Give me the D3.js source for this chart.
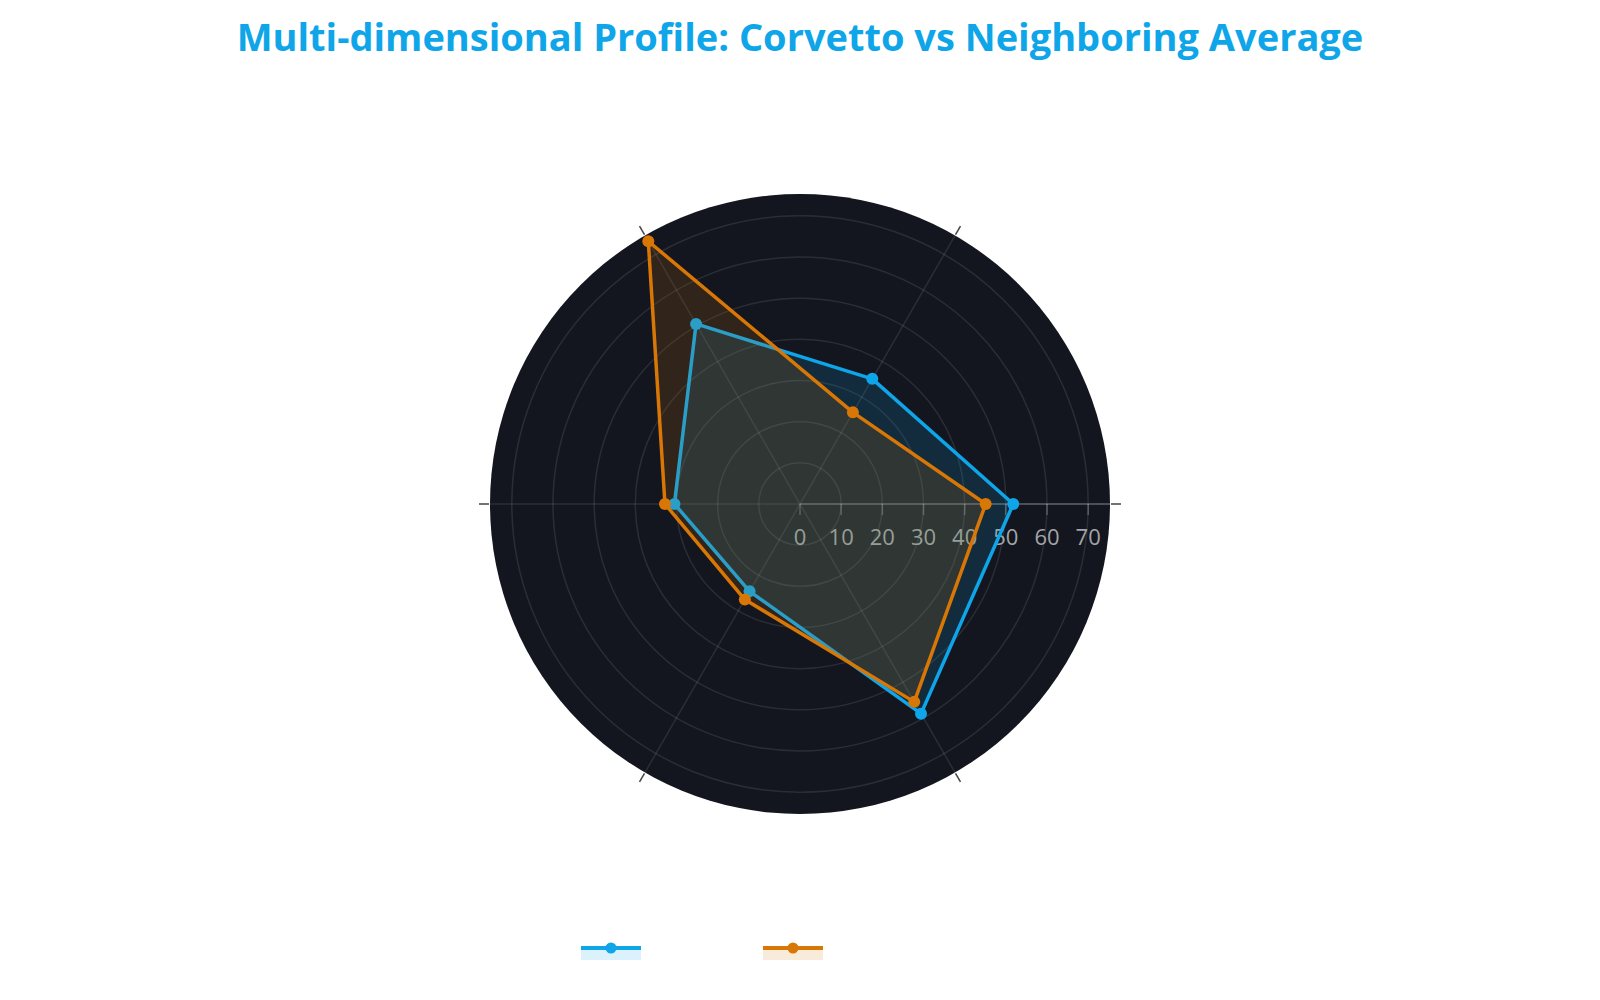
<!DOCTYPE html>
<html>
<head>
<meta charset="utf-8">
<script src="https://cdn.jsdelivr.net/npm/d3@7"></script>
<style>
  body { margin: 0; background: #ffffff; }
  svg { display: block; }
</style>
</head>
<body>
<div id="chart"></div>
<script>
// six profile dimensions, counterclockwise from east
const dimensions = ["dim1", "dim2", "dim3", "dim4", "dim5", "dim6"];
const seriesNames = ["Corvetto", "Neighboring Average"];
const corvetto = [51.8, 35.1, 50.5, 30.5, 24.5, 58.8];
const neighboring = [45.1, 25.7, 73.7, 32.8, 26.8, 55.5];
const radialTicks = [0, 10, 20, 30, 40, 50, 60, 70];

const colors = ["#0ea5e9", "#d97706"];
const fills = ["rgba(14,165,233,0.15)", "rgba(217,119,6,0.15)"];

const W = 1600, H = 1000;
const cx = 800, cy = 504, R = 310;

const svg = d3.select("#chart").append("svg")
  .attr("width", W).attr("height", H);

svg.append("text")
  .attr("x", W / 2).attr("y", 51)
  .attr("text-anchor", "middle")
  .style("font-family", "'Open Sans', sans-serif")
  .style("font-weight", "bold")
  .style("font-size", "38px")
  .style("fill", "#0ea5e9")
  .text("Multi-dimensional Profile: Corvetto vs Neighboring Average");

const r = d3.scaleLinear().domain([0, 75.3]).range([0, R]);
// angle in radians, math convention (0 = east, counterclockwise)
const ang = d3.scaleLinear().domain([0, dimensions.length]).range([0, 2 * Math.PI]);

const g = svg.append("g").attr("transform", "translate(" + cx + "," + cy + ")");

g.append("circle").attr("r", R).attr("fill", "#13161f");

// grid circles
g.selectAll(".ring").data(radialTicks.filter(d => d > 0)).enter()
  .append("circle")
  .attr("r", d => r(d))
  .attr("fill", "none")
  .attr("stroke", "rgba(255,255,255,0.1)")
  .attr("stroke-width", 1.5);

// angular grid lines + outside ticks
g.selectAll(".spoke").data(dimensions).enter()
  .append("line")
  .attr("x1", 0).attr("y1", 0)
  .attr("x2", (d, i) => R * Math.cos(ang(i)))
  .attr("y2", (d, i) => -R * Math.sin(ang(i)))
  .attr("stroke", "rgba(255,255,255,0.1)")
  .attr("stroke-width", 1.5);

g.selectAll(".atick").data(dimensions).enter()
  .append("line")
  .attr("x1", (d, i) => (R + 1) * Math.cos(ang(i)))
  .attr("y1", (d, i) => -(R + 1) * Math.sin(ang(i)))
  .attr("x2", (d, i) => (R + 11) * Math.cos(ang(i)))
  .attr("y2", (d, i) => -(R + 11) * Math.sin(ang(i)))
  .attr("stroke", "#444")
  .attr("stroke-width", 1.5);

// radial axis along 0 deg
g.append("line")
  .attr("x1", 0).attr("y1", 0).attr("x2", R).attr("y2", 0)
  .attr("stroke", "rgba(255,255,255,0.25)")
  .attr("stroke-width", 1.5);

g.selectAll(".rtick").data(radialTicks).enter()
  .append("line")
  .attr("x1", d => r(d)).attr("x2", d => r(d))
  .attr("y1", 0).attr("y2", 11)
  .attr("stroke", "rgba(255,255,255,0.25)")
  .attr("stroke-width", 1.5);

g.selectAll(".rlabel").data(radialTicks).enter()
  .append("text")
  .attr("x", d => r(d)).attr("y", 41)
  .attr("text-anchor", "middle")
  .style("font-family", "'Open Sans', sans-serif")
  .style("font-size", "22px")
  .style("fill", "#a2a5a8")
  .text(d => d);

const radial = d3.lineRadial()
  .angle((d, i) => Math.PI / 2 - ang(i))
  .radius(d => r(d))
  .curve(d3.curveLinearClosed);

[corvetto, neighboring].forEach(function (vals, k) {
  const s = g.append("g");
  s.append("path").attr("d", radial(vals))
    .attr("fill", fills[k]).attr("stroke", "none");
  s.append("path").attr("d", radial(vals))
    .attr("fill", "none").attr("stroke", colors[k])
    .attr("stroke-width", 3.5).attr("stroke-linejoin", "round");
  s.selectAll("circle").data(vals).enter()
    .append("circle")
    .attr("cx", (d, i) => r(d) * Math.cos(ang(i)))
    .attr("cy", (d, i) => -r(d) * Math.sin(ang(i)))
    .attr("r", 6)
    .attr("fill", colors[k]);
});

// legend
const legend = svg.append("g").attr("transform", "translate(581,948)");
const item = legend.selectAll(".item").data(seriesNames).enter()
  .append("g")
  .attr("transform", (d, i) => "translate(" + (i * 182) + ",0)");
item.append("rect")
  .attr("x", 0).attr("y", 0).attr("width", 60).attr("height", 12)
  .attr("fill", (d, i) => fills[i]);
item.append("line")
  .attr("x1", 0).attr("x2", 60).attr("y1", 0).attr("y2", 0)
  .attr("stroke", (d, i) => colors[i]).attr("stroke-width", 4);
item.append("circle")
  .attr("cx", 30).attr("cy", 0).attr("r", 5.5)
  .attr("fill", (d, i) => colors[i]);
item.append("text")
  .attr("x", 66).attr("y", 7)
  .style("font-family", "'Open Sans', sans-serif")
  .style("font-size", "20px")
  .style("fill", "#ffffff")
  .text(d => d);
</script>
</body>
</html>
